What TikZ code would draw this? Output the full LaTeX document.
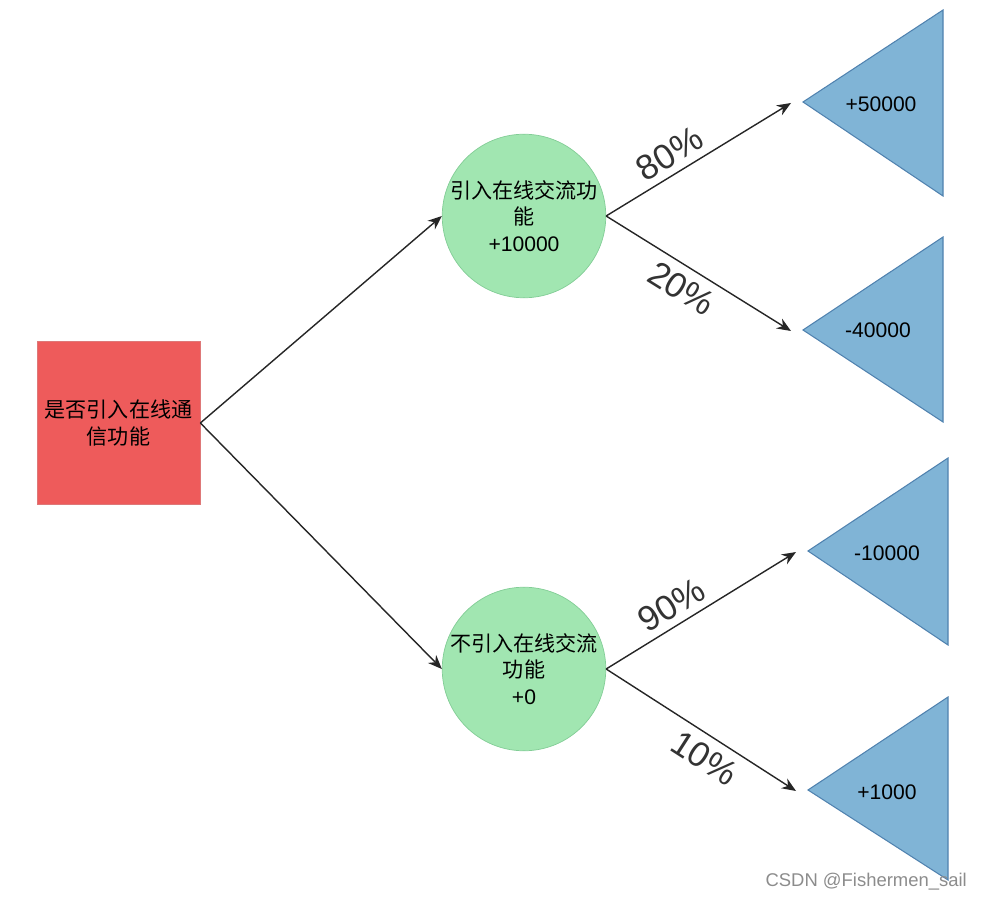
\documentclass[tikz,border=0pt]{standalone}
\usepackage{fontspec}
\setmainfont{Liberation Sans}
\newfontfamily\cjk{Noto Sans CJK SC}
\usepackage{xcolor}
\usetikzlibrary{
  positioning,
  arrows.meta
}

\definecolor{boxred}{RGB}{238,91,91}
\definecolor{boxredline}{RGB}{222,120,120}
\definecolor{chancegreen}{RGB}{161,230,177}
\definecolor{chancegreenline}{RGB}{130,205,150}
\definecolor{leafblue}{RGB}{128,180,214}
\definecolor{leafblueline}{RGB}{80,130,175}

\begin{document}
\begin{tikzpicture}[x=0.02cm,y=-0.02cm,
  decision/.style={draw=boxredline,fill=boxred,minimum size=3.26cm,inner sep=0pt,
    align=center,font=\fontsize{12}{15}\selectfont},
  chance/.style={circle,draw=chancegreenline,fill=chancegreen,minimum size=3.24cm,
    inner sep=0pt,align=center,font=\fontsize{12}{15}\selectfont},
  leaf/.style={draw=leafblueline,fill=leafblue,line width=0.6pt},
  payoff/.style={font=\fontsize{12}{15}\selectfont},
  edge/.style={-{Stealth[length=8pt,width=6.5pt]},line width=0.8pt,black!85},
  pct/.style={sloped,inner sep=1pt,font=\fontsize{20}{24}\selectfont,text=black!80}]
  \useasboundingbox (0,0) rectangle (986,901);

  % 决策节点
  \node[decision] (Q) at (118.5,423) {{\cjk 是否引入在线通}\\{\cjk 信功能}};
  % 机会节点
  \node[chance] (A) at (524,216) {{\cjk 引入在线交流功}\\{\cjk 能}\\+10000};
  \node[chance] (B) at (524,669) {{\cjk 不引入在线交流}\\{\cjk 功能}\\+0};

  % 结果三角形
  \foreach \n/\ax/\ay/\rx/\ty/\by in {A1/803/102/943/10/196, A2/803/330/943/237/422,
      B1/808/551/948/458/645, B2/808/790/948/697/880}{
    \draw[leaf] (\ax,\ay) -- (\rx,\ty) -- (\rx,\by) -- cycle;
    \coordinate (\n) at (\ax-12,\ay+1);
  }
  \node[payoff] (vA1) at (881,104) {+50000};
  \node[payoff] (vA2) at (878,330) {-40000};
  \node[payoff] (vB1) at (887,553) {-10000};
  \node[payoff] (vB2) at (887,792) {+1000};

  % 分支
  \draw[edge] (Q.east) -- (A.west);
  \draw[edge] (Q.east) -- (B.west);
  \draw[edge] (A.east) -- node[pct,above=3pt,pos=.40]{80\%} (A1);
  \draw[edge] (A.east) -- node[pct,below=4pt,pos=.47]{20\%} (A2);
  \draw[edge] (B.east) -- node[pct,above=3pt,pos=.40]{90\%} (B1);
  \draw[edge] (B.east) -- node[pct,below=4pt,pos=.58]{10\%} (B2);

  % 水印
  \node[anchor=east,text=black!45,font=\fontsize{10.5}{12}\selectfont] (wm) at (973,882)
    {CSDN @Fishermen\_sail};
\end{tikzpicture}
\end{document}
